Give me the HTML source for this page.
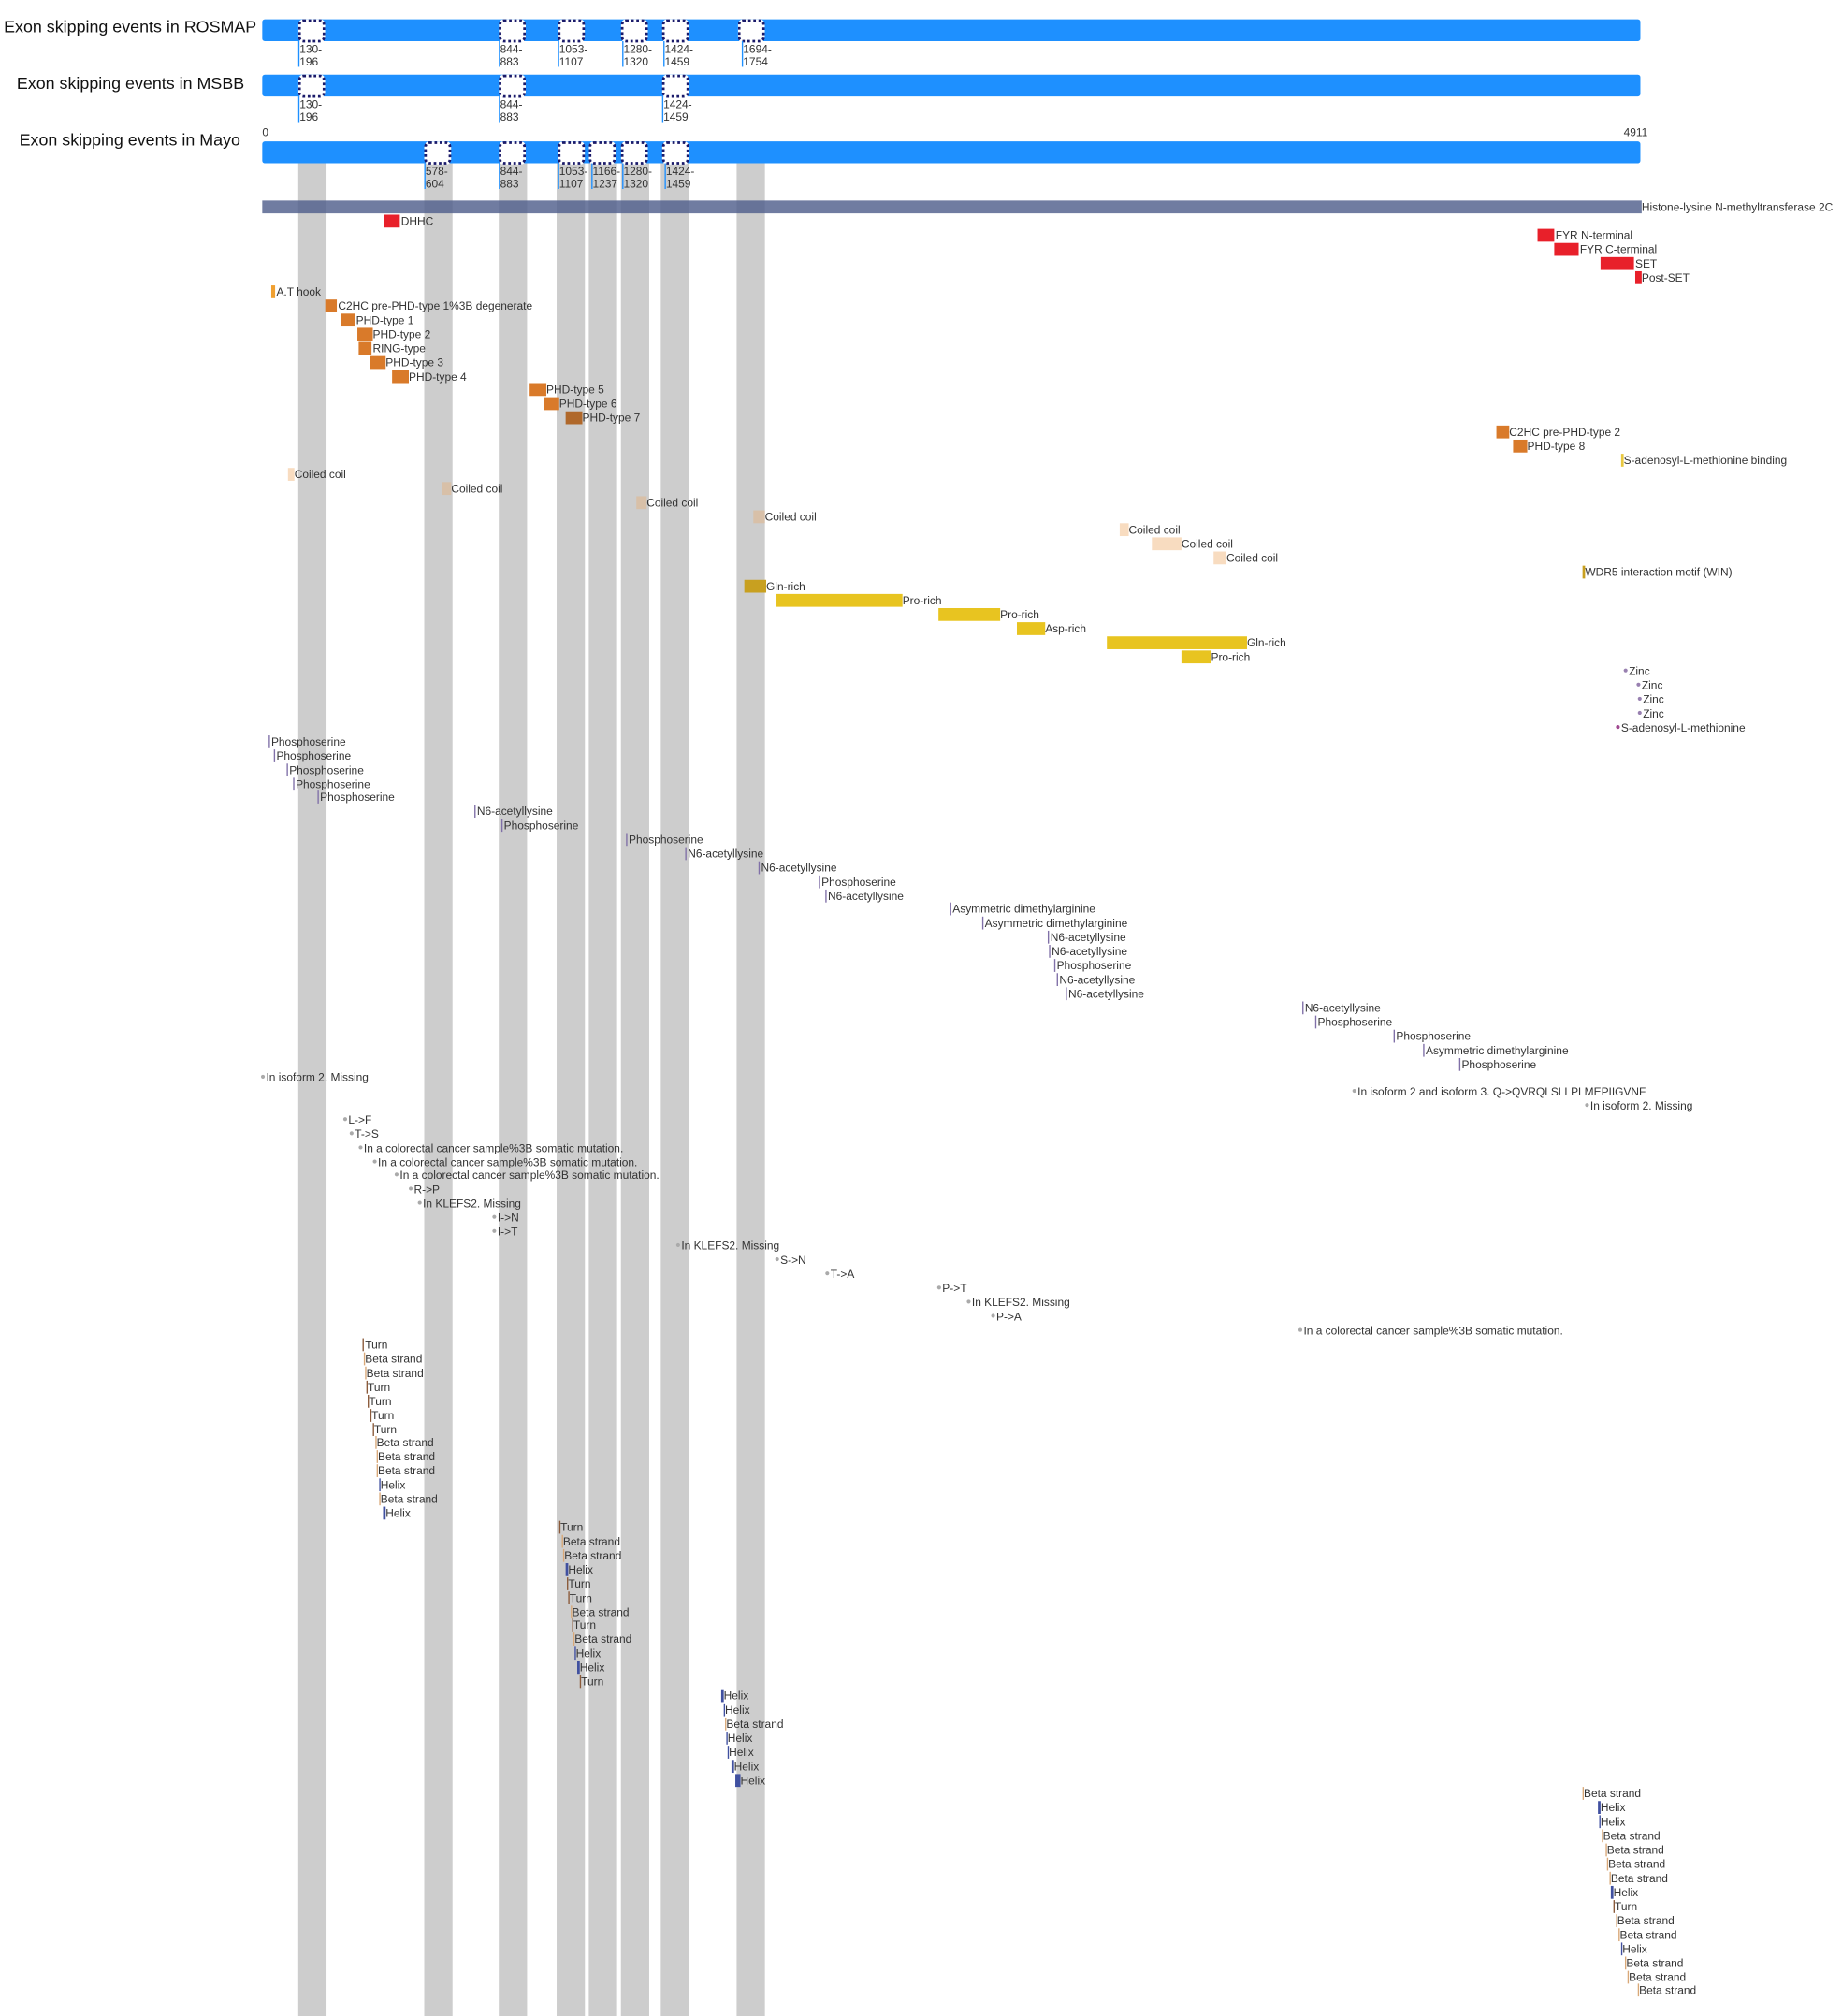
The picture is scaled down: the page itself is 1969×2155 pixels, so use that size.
<!DOCTYPE html>
<html><head><meta charset="utf-8"><style>
html,body{margin:0;padding:0;background:#fff;}
#w{width:1969px;height:2155px;overflow:hidden;position:relative;}
#c{position:absolute;left:0;top:0;width:1440px;height:1576px;transform:scale(1.3742);transform-origin:0 0;font-family:"Liberation Sans",Arial,sans-serif;}
#c div,#c i,#c b,#c s,#c u{position:absolute;display:block;}
i{height:10px;}
b{font-weight:normal;font-size:8.7px;line-height:10px;color:#333;white-space:nowrap;}
s{width:3px;height:3px;border-radius:50%;background:#aaa;text-decoration:none;}
.bar{background:#1e90ff;height:17px;border-radius:2px;}
.ex{width:17px;height:14px;background:#fff;border:2px dotted #1a1a6a;border-radius:4px;}
.col{background:#cdcdcd;width:22px;top:127px;height:1450px;}
.tt{font-size:13px;color:#111;line-height:14px;white-space:nowrap;}
.el{width:1px;background:#1e90ff;height:20px;}
.et{font-size:8.7px;line-height:10px;color:#333;}
.p{background:#8070a8;width:1px;}
.T{background:#8b5a3a;}.B{background:#d9a878;}.H{background:#4050a0;}
</style></head><body><div id="w"><div id="c">
<div class="col" style="left:232px"></div><div class="col" style="left:330px"></div><div class="col" style="left:388px"></div><div class="col" style="left:433px"></div><div class="col" style="left:458px"></div><div class="col" style="left:483px"></div><div class="col" style="left:514px"></div><div class="col" style="left:573px"></div>

<div class="tt" style="left:3px;top:14px">Exon skipping events in ROSMAP</div>
<div class="tt" style="left:13px;top:58px">Exon skipping events in MSBB</div>
<div class="tt" style="left:15px;top:102px">Exon skipping events in Mayo</div>

<div class="bar" style="left:204px;top:15px;width:1072px"></div>
<div class="bar" style="left:204px;top:58px;width:1072px"></div>
<div class="bar" style="left:204px;top:110px;width:1072px"></div>
<b style="left:204px;top:98px">0</b><b style="left:1263px;top:98px">4911</b>

<div class="ex" style="left:232px;top:15px"></div><div class="ex" style="left:388px;top:15px"></div><div class="ex" style="left:434px;top:15px"></div><div class="ex" style="left:483px;top:15px"></div><div class="ex" style="left:515px;top:15px"></div><div class="ex" style="left:574px;top:15px"></div>
<div class="el" style="left:232px;top:32px"></div><div class="et" style="left:233px;top:33px">130-<br>196</div>
<div class="el" style="left:388px;top:32px"></div><div class="et" style="left:389px;top:33px">844-<br>883</div>
<div class="el" style="left:434px;top:32px"></div><div class="et" style="left:435px;top:33px">1053-<br>1107</div>
<div class="el" style="left:484px;top:32px"></div><div class="et" style="left:485px;top:33px">1280-<br>1320</div>
<div class="el" style="left:516px;top:32px"></div><div class="et" style="left:517px;top:33px">1424-<br>1459</div>
<div class="el" style="left:577px;top:32px"></div><div class="et" style="left:578px;top:33px">1694-<br>1754</div>

<div class="ex" style="left:232px;top:58px"></div><div class="ex" style="left:388px;top:58px"></div><div class="ex" style="left:515px;top:58px"></div>
<div class="el" style="left:232px;top:75px"></div><div class="et" style="left:233px;top:76px">130-<br>196</div>
<div class="el" style="left:388px;top:75px"></div><div class="et" style="left:389px;top:76px">844-<br>883</div>
<div class="el" style="left:515px;top:75px"></div><div class="et" style="left:516px;top:76px">1424-<br>1459</div>

<div class="ex" style="left:330px;top:110px"></div><div class="ex" style="left:388px;top:110px"></div><div class="ex" style="left:434px;top:110px"></div><div class="ex" style="left:458px;top:110px"></div><div class="ex" style="left:483px;top:110px"></div><div class="ex" style="left:515px;top:110px"></div>
<div class="el" style="left:330px;top:127px"></div><div class="et" style="left:331px;top:128px">578-<br>604</div>
<div class="el" style="left:388px;top:127px"></div><div class="et" style="left:389px;top:128px">844-<br>883</div>
<div class="el" style="left:434px;top:127px"></div><div class="et" style="left:435px;top:128px">1053-<br>1107</div>
<div class="el" style="left:460px;top:127px"></div><div class="et" style="left:461px;top:128px">1166-<br>1237</div>
<div class="el" style="left:484px;top:127px"></div><div class="et" style="left:485px;top:128px">1280-<br>1320</div>
<div class="el" style="left:517px;top:127px"></div><div class="et" style="left:518px;top:128px">1424-<br>1459</div>

<div style="left:204px;top:156px;width:1073px;height:10px;background:rgba(80,95,140,0.82)"></div>
<b style="left:1277px;top:156px">Histone-lysine N-methyltransferase 2C</b>

<i style="left:299px;top:167px;width:12px;background:#e8202a"></i><b style="left:312px;top:167px">DHHC</b>
<i style="left:1196px;top:178px;width:13px;background:#e8202a"></i><b style="left:1210px;top:178px">FYR N-terminal</b>
<i style="left:1209px;top:189px;width:19px;background:#e8202a"></i><b style="left:1229px;top:189px">FYR C-terminal</b>
<i style="left:1245px;top:200px;width:26px;background:#e8202a"></i><b style="left:1272px;top:200px">SET</b>
<i style="left:1272px;top:211px;width:5px;background:#e8202a"></i><b style="left:1277px;top:211px">Post-SET</b>
<i style="left:211px;top:222px;width:3px;background:#f0a030"></i><b style="left:215px;top:222px">A.T hook</b>
<i style="left:253px;top:233px;width:9px;background:#d97a2a"></i><b style="left:263px;top:233px">C2HC pre-PHD-type 1%3B degenerate</b>
<i style="left:265px;top:244px;width:11px;background:#d97a2a"></i><b style="left:277px;top:244px">PHD-type 1</b>
<i style="left:278px;top:255px;width:12px;background:#d97a2a"></i><b style="left:290px;top:255px">PHD-type 2</b>
<i style="left:279px;top:266px;width:10px;background:#d97a2a"></i><b style="left:290px;top:266px">RING-type</b>
<i style="left:288px;top:277px;width:12px;background:#d97a2a"></i><b style="left:300px;top:277px">PHD-type 3</b>
<i style="left:305px;top:288px;width:13px;background:#d97a2a"></i><b style="left:318px;top:288px">PHD-type 4</b>
<i style="left:412px;top:298px;width:13px;background:#d97a2a"></i><b style="left:425px;top:298px">PHD-type 5</b>
<i style="left:423px;top:309px;width:12px;background:#d97a2a"></i><b style="left:435px;top:309px">PHD-type 6</b>
<i style="left:440px;top:320px;width:13px;background:#b0682a"></i><b style="left:453px;top:320px">PHD-type 7</b>
<i style="left:1164px;top:331px;width:10px;background:#d97a2a"></i><b style="left:1174px;top:331px">C2HC pre-PHD-type 2</b>
<i style="left:1177px;top:342px;width:11px;background:#d97a2a"></i><b style="left:1188px;top:342px">PHD-type 8</b>
<i style="left:1261px;top:353px;width:2px;background:#e8c840"></i><b style="left:1263px;top:353px">S-adenosyl-L-methionine binding</b>
<i style="left:224px;top:364px;width:5px;background:#f8dcc0"></i><b style="left:229px;top:364px">Coiled coil</b>
<i style="left:344px;top:375px;width:7px;background:#d8c0a8"></i><b style="left:351px;top:375px">Coiled coil</b>
<i style="left:495px;top:386px;width:8px;background:#d8c0a8"></i><b style="left:503px;top:386px">Coiled coil</b>
<i style="left:586px;top:397px;width:9px;background:#d8c0a8"></i><b style="left:595px;top:397px">Coiled coil</b>
<i style="left:871px;top:407px;width:7px;background:#f8dcc0"></i><b style="left:878px;top:407px">Coiled coil</b>
<i style="left:896px;top:418px;width:23px;background:#f8dcc0"></i><b style="left:919px;top:418px">Coiled coil</b>
<i style="left:944px;top:429px;width:10px;background:#f8dcc0"></i><b style="left:954px;top:429px">Coiled coil</b>
<i style="left:1231px;top:440px;width:2px;background:#c8a020"></i><b style="left:1233px;top:440px">WDR5 interaction motif (WIN)</b>
<i style="left:579px;top:451px;width:17px;background:#c8a020"></i><b style="left:596px;top:451px">Gln-rich</b>
<i style="left:604px;top:462px;width:98px;background:#e8c420"></i><b style="left:702px;top:462px">Pro-rich</b>
<i style="left:730px;top:473px;width:48px;background:#e8c420"></i><b style="left:778px;top:473px">Pro-rich</b>
<i style="left:791px;top:484px;width:22px;background:#e8c420"></i><b style="left:813px;top:484px">Asp-rich</b>
<i style="left:861px;top:495px;width:109px;background:#e8c420"></i><b style="left:970px;top:495px">Gln-rich</b>
<i style="left:919px;top:506px;width:23px;background:#e8c420"></i><b style="left:942px;top:506px">Pro-rich</b>
<s style="left:1263px;top:520px;background:#9880b0"></s><b style="left:1267px;top:517px">Zinc</b>
<s style="left:1273px;top:531px;background:#9880b0"></s><b style="left:1277px;top:528px">Zinc</b>
<s style="left:1274px;top:542px;background:#9880b0"></s><b style="left:1278px;top:539px">Zinc</b>
<s style="left:1274px;top:553px;background:#9880b0"></s><b style="left:1278px;top:550px">Zinc</b>
<s style="left:1257px;top:564px;background:#a04890"></s><b style="left:1261px;top:561px">S-adenosyl-L-methionine</b>

<i class="p" style="left:209px;top:572px"></i><b style="left:211px;top:572px">Phosphoserine</b>
<i class="p" style="left:213px;top:583px"></i><b style="left:215px;top:583px">Phosphoserine</b>
<i class="p" style="left:223px;top:594px"></i><b style="left:225px;top:594px">Phosphoserine</b>
<i class="p" style="left:228px;top:605px"></i><b style="left:230px;top:605px">Phosphoserine</b>
<i class="p" style="left:247px;top:615px"></i><b style="left:249px;top:615px">Phosphoserine</b>
<i class="p" style="left:369px;top:626px"></i><b style="left:371px;top:626px">N6-acetyllysine</b>
<i class="p" style="left:390px;top:637px"></i><b style="left:392px;top:637px">Phosphoserine</b>
<i class="p" style="left:487px;top:648px"></i><b style="left:489px;top:648px">Phosphoserine</b>
<i class="p" style="left:533px;top:659px"></i><b style="left:535px;top:659px">N6-acetyllysine</b>
<i class="p" style="left:590px;top:670px"></i><b style="left:592px;top:670px">N6-acetyllysine</b>
<i class="p" style="left:637px;top:681px"></i><b style="left:639px;top:681px">Phosphoserine</b>
<i class="p" style="left:642px;top:692px"></i><b style="left:644px;top:692px">N6-acetyllysine</b>
<i class="p" style="left:739px;top:702px"></i><b style="left:741px;top:702px">Asymmetric dimethylarginine</b>
<i class="p" style="left:764px;top:713px"></i><b style="left:766px;top:713px">Asymmetric dimethylarginine</b>
<i class="p" style="left:815px;top:724px"></i><b style="left:817px;top:724px">N6-acetyllysine</b>
<i class="p" style="left:816px;top:735px"></i><b style="left:818px;top:735px">N6-acetyllysine</b>
<i class="p" style="left:820px;top:746px"></i><b style="left:822px;top:746px">Phosphoserine</b>
<i class="p" style="left:822px;top:757px"></i><b style="left:824px;top:757px">N6-acetyllysine</b>
<i class="p" style="left:829px;top:768px"></i><b style="left:831px;top:768px">N6-acetyllysine</b>
<i class="p" style="left:1013px;top:779px"></i><b style="left:1015px;top:779px">N6-acetyllysine</b>
<i class="p" style="left:1023px;top:790px"></i><b style="left:1025px;top:790px">Phosphoserine</b>
<i class="p" style="left:1084px;top:801px"></i><b style="left:1086px;top:801px">Phosphoserine</b>
<i class="p" style="left:1107px;top:812px"></i><b style="left:1109px;top:812px">Asymmetric dimethylarginine</b>
<i class="p" style="left:1135px;top:823px"></i><b style="left:1137px;top:823px">Phosphoserine</b>

<s style="left:203px;top:836px"></s><b style="left:207px;top:833px">In isoform 2. Missing</b>
<s style="left:1052px;top:847px"></s><b style="left:1056px;top:844px">In isoform 2 and isoform 3. Q-&gt;QVRQLSLLPLMEPIIGVNF</b>
<s style="left:1233px;top:858px"></s><b style="left:1237px;top:855px">In isoform 2. Missing</b>
<s style="left:267px;top:869px"></s><b style="left:271px;top:866px">L-&gt;F</b>
<s style="left:272px;top:880px"></s><b style="left:276px;top:877px">T-&gt;S</b>
<s style="left:279px;top:891px"></s><b style="left:283px;top:888px">In a colorectal cancer sample%3B somatic mutation.</b>
<s style="left:290px;top:902px"></s><b style="left:294px;top:899px">In a colorectal cancer sample%3B somatic mutation.</b>
<s style="left:307px;top:912px"></s><b style="left:311px;top:909px">In a colorectal cancer sample%3B somatic mutation.</b>
<s style="left:318px;top:923px"></s><b style="left:322px;top:920px">R-&gt;P</b>
<s style="left:325px;top:934px"></s><b style="left:329px;top:931px">In KLEFS2. Missing</b>
<s style="left:383px;top:945px"></s><b style="left:387px;top:942px">I-&gt;N</b>
<s style="left:383px;top:956px"></s><b style="left:387px;top:953px">I-&gt;T</b>
<s style="left:526px;top:967px"></s><b style="left:530px;top:964px">In KLEFS2. Missing</b>
<s style="left:603px;top:978px"></s><b style="left:607px;top:975px">S-&gt;N</b>
<s style="left:642px;top:989px"></s><b style="left:646px;top:986px">T-&gt;A</b>
<s style="left:729px;top:1000px"></s><b style="left:733px;top:997px">P-&gt;T</b>
<s style="left:752px;top:1011px"></s><b style="left:756px;top:1008px">In KLEFS2. Missing</b>
<s style="left:771px;top:1022px"></s><b style="left:775px;top:1019px">P-&gt;A</b>
<s style="left:1010px;top:1033px"></s><b style="left:1014px;top:1030px">In a colorectal cancer sample%3B somatic mutation.</b>

<i class="T" style="left:282px;top:1041px;width:1px"></i><b style="left:284px;top:1041px">Turn</b>
<i class="B" style="left:283px;top:1052px;width:1px"></i><b style="left:284px;top:1052px">Beta strand</b>
<i class="B" style="left:284px;top:1063px;width:1px"></i><b style="left:285px;top:1063px">Beta strand</b>
<i class="T" style="left:285px;top:1074px;width:1px"></i><b style="left:286px;top:1074px">Turn</b>
<i class="T" style="left:286px;top:1085px;width:1px"></i><b style="left:287px;top:1085px">Turn</b>
<i class="T" style="left:288px;top:1096px;width:1px"></i><b style="left:289px;top:1096px">Turn</b>
<i class="T" style="left:290px;top:1107px;width:1px"></i><b style="left:291px;top:1107px">Turn</b>
<i class="B" style="left:292px;top:1117px;width:1px"></i><b style="left:293px;top:1117px">Beta strand</b>
<i class="B" style="left:293px;top:1128px;width:1px"></i><b style="left:294px;top:1128px">Beta strand</b>
<i class="B" style="left:293px;top:1139px;width:1px"></i><b style="left:294px;top:1139px">Beta strand</b>
<i class="H" style="left:295px;top:1150px;width:1px"></i><b style="left:296px;top:1150px">Helix</b>
<i class="B" style="left:295px;top:1161px;width:1px"></i><b style="left:296px;top:1161px">Beta strand</b>
<i class="H" style="left:298px;top:1172px;width:2px"></i><b style="left:300px;top:1172px">Helix</b>

<i class="T" style="left:435px;top:1183px;width:1px"></i><b style="left:436px;top:1183px">Turn</b>
<i class="B" style="left:437px;top:1194px;width:1px"></i><b style="left:438px;top:1194px">Beta strand</b>
<i class="B" style="left:438px;top:1205px;width:1px"></i><b style="left:439px;top:1205px">Beta strand</b>
<i class="H" style="left:440px;top:1216px;width:2px"></i><b style="left:442px;top:1216px">Helix</b>
<i class="T" style="left:441px;top:1227px;width:1px"></i><b style="left:442px;top:1227px">Turn</b>
<i class="T" style="left:442px;top:1238px;width:1px"></i><b style="left:443px;top:1238px">Turn</b>
<i class="B" style="left:444px;top:1249px;width:1px"></i><b style="left:445px;top:1249px">Beta strand</b>
<i class="T" style="left:445px;top:1259px;width:1px"></i><b style="left:446px;top:1259px">Turn</b>
<i class="B" style="left:446px;top:1270px;width:1px"></i><b style="left:447px;top:1270px">Beta strand</b>
<i class="H" style="left:447px;top:1281px;width:1px"></i><b style="left:448px;top:1281px">Helix</b>
<i class="H" style="left:449px;top:1292px;width:2px"></i><b style="left:451px;top:1292px">Helix</b>
<i class="T" style="left:451px;top:1303px;width:1px"></i><b style="left:452px;top:1303px">Turn</b>

<i class="H" style="left:561px;top:1314px;width:2px"></i><b style="left:563px;top:1314px">Helix</b>
<i class="H" style="left:563px;top:1325px;width:1px"></i><b style="left:564px;top:1325px">Helix</b>
<i class="B" style="left:564px;top:1336px;width:1px"></i><b style="left:565px;top:1336px">Beta strand</b>
<i class="H" style="left:565px;top:1347px;width:1px"></i><b style="left:566px;top:1347px">Helix</b>
<i class="H" style="left:566px;top:1358px;width:1px"></i><b style="left:567px;top:1358px">Helix</b>
<i class="H" style="left:569px;top:1369px;width:2px"></i><b style="left:571px;top:1369px">Helix</b>
<i class="H" style="left:572px;top:1380px;width:4px"></i><b style="left:576px;top:1380px">Helix</b>

<i class="B" style="left:1231px;top:1390px;width:1px"></i><b style="left:1232px;top:1390px">Beta strand</b>
<i class="H" style="left:1243px;top:1401px;width:2px"></i><b style="left:1245px;top:1401px">Helix</b>
<i class="H" style="left:1244px;top:1412px;width:1px"></i><b style="left:1245px;top:1412px">Helix</b>
<i class="B" style="left:1246px;top:1423px;width:1px"></i><b style="left:1247px;top:1423px">Beta strand</b>
<i class="B" style="left:1249px;top:1434px;width:1px"></i><b style="left:1250px;top:1434px">Beta strand</b>
<i class="B" style="left:1250px;top:1445px;width:1px"></i><b style="left:1251px;top:1445px">Beta strand</b>
<i class="B" style="left:1252px;top:1456px;width:1px"></i><b style="left:1253px;top:1456px">Beta strand</b>
<i class="H" style="left:1253px;top:1467px;width:2px"></i><b style="left:1255px;top:1467px">Helix</b>
<i class="T" style="left:1255px;top:1478px;width:1px"></i><b style="left:1256px;top:1478px">Turn</b>
<i class="B" style="left:1257px;top:1489px;width:1px"></i><b style="left:1258px;top:1489px">Beta strand</b>
<i class="B" style="left:1259px;top:1500px;width:1px"></i><b style="left:1260px;top:1500px">Beta strand</b>
<i class="H" style="left:1261px;top:1511px;width:1px"></i><b style="left:1262px;top:1511px">Helix</b>
<i class="B" style="left:1264px;top:1522px;width:1px"></i><b style="left:1265px;top:1522px">Beta strand</b>
<i class="B" style="left:1266px;top:1533px;width:1px"></i><b style="left:1267px;top:1533px">Beta strand</b>
<i class="B" style="left:1274px;top:1543px;width:1px"></i><b style="left:1275px;top:1543px">Beta strand</b>
</div></div></body></html>
